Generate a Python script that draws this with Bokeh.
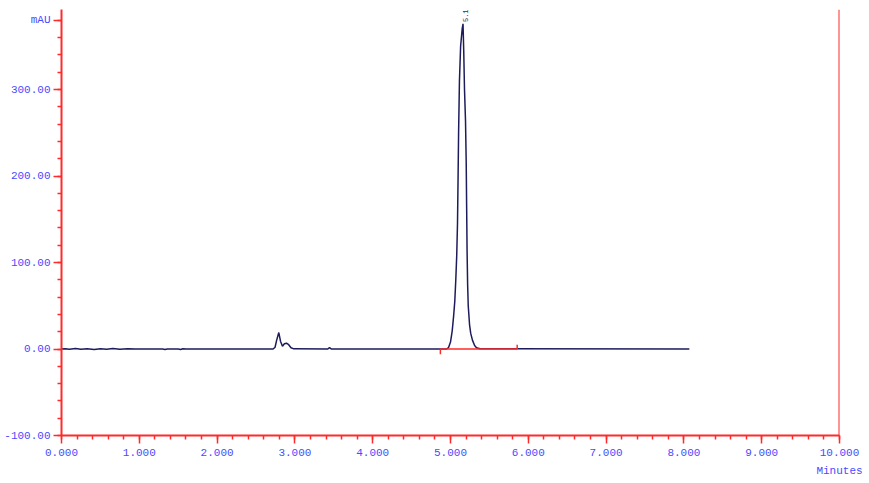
from bokeh.plotting import figure
from bokeh.models import Range1d, Span, NumeralTickFormatter, FixedTicker, LinearAxis
from bokeh.core.properties import value
from bokeh.embed import file_html
from bokeh.resources import INLINE

# Chromatogram trace (minutes, mAU)
times = [0.00, 0.05, 0.10, 0.18, 0.25, 0.33, 0.42, 0.50, 0.58, 0.66, 0.75, 0.85, 0.95,
         1.30, 1.33, 1.36, 1.50, 1.53, 1.56, 1.60,
         2.72, 2.745, 2.765, 2.793, 2.815, 2.84, 2.865, 2.892, 2.92, 2.95, 2.986,
         3.42, 3.445, 3.47,
         4.95, 4.974, 5.00, 5.022, 5.04, 5.055, 5.068, 5.08, 5.09, 5.097, 5.104, 5.115,
         5.13, 5.15, 5.161, 5.17, 5.18, 5.193, 5.202, 5.208, 5.213, 5.22, 5.228, 5.245,
         5.26, 5.283, 5.31, 5.334, 5.38, 8.07]
signal = [0.0, 0.4, -0.3, 0.5, -0.4, 0.3, -0.5, 0.4, -0.3, 0.5, -0.4, 0.3, 0.0,
          0.0, -0.6, 0.0, 0.0, -0.6, 0.2, 0.0,
          0.0, 2.0, 10.0, 19.0, 9.0, 3.2, 6.0, 6.7, 5.0, 1.5, 0.2,
          0.0, 1.5, 0.0,
          0.0, 1.5, 8.0, 21.0, 38.0, 55.0, 80.0, 108.0, 145.0, 195.0, 250.0, 310.0,
          350.0, 370.0, 376.0, 345.0, 300.0, 264.0, 215.0, 160.0, 114.0, 75.0, 50.0, 28.0,
          18.0, 10.0, 4.0, 1.5, 0.3, 0.0]

# Integration baseline of the main peak
base_start = 4.87
base_end = 5.857
peak_label_x = 5.19
peak_label = "5.1"

x_ticks = [0, 1, 2, 3, 4, 5, 6, 7, 8, 9, 10]
y_ticks = [-100, 0, 100, 200, 300, 380]
y_unit_tick = 380
y_unit = "mAU"
x_unit = "Minutes"

RED = "#ff2a2a"
BLUE = "#4a4aff"
FONT = "Liberation Mono"

p = figure(width=865, height=479, output_backend="svg", toolbar_location=None,
           x_range=Range1d(0, 10), y_range=Range1d(-100, 392.5),
           min_border_left=61, min_border_right=26, min_border_top=9, min_border_bottom=44)
p.background_fill_color = "white"
p.border_fill_color = "white"
p.outline_line_color = None
p.xgrid.visible = False
p.ygrid.visible = False

for ax in (p.xaxis[0], p.yaxis[0]):
    ax.axis_line_color = RED
    ax.axis_line_width = 2
    ax.major_tick_line_color = RED
    ax.minor_tick_line_color = RED
    ax.major_tick_line_width = 1.5
    ax.minor_tick_line_width = 1.5
    ax.major_tick_out = 8
    ax.major_tick_in = 0
    ax.minor_tick_out = 4
    ax.minor_tick_in = 0
    ax.major_label_text_color = BLUE
    ax.major_label_text_font = FONT
    ax.major_label_text_font_size = "11px"

p.xaxis.ticker = FixedTicker(ticks=x_ticks, minor_ticks=[i * 0.2 for i in range(51)])
p.yaxis.ticker = FixedTicker(ticks=y_ticks, minor_ticks=[-100 + i * 20 for i in range(25)])
p.xaxis.formatter = NumeralTickFormatter(format="0.000")
p.yaxis.formatter = NumeralTickFormatter(format="0.00")
p.yaxis.major_label_overrides = {y_unit_tick: y_unit}
p.xaxis.major_label_standoff = 5
p.yaxis.major_label_standoff = 3

# unit label under the last x tick
unit_axis = LinearAxis(ticker=FixedTicker(ticks=[10]), major_label_overrides={10: x_unit},
                       axis_line_color=None, major_tick_line_color=None,
                       minor_tick_line_color=None, major_label_standoff=0,
                       major_label_text_color=BLUE, major_label_text_font=FONT,
                       major_label_text_font_size="11px")
p.add_layout(unit_axis, "below")

p.add_layout(Span(location=10, dimension="height", line_color=RED, line_width=2))

p.line(times, signal, line_color="#1c1c5c", line_width=1.5)

# integration baseline + event marks
p.segment(x0=[base_start], y0=[0], x1=[base_end], y1=[0], line_color=RED, line_width=1.5)
p.segment(x0=[base_start, base_end], y0=[0, 0], x1=[base_start, base_end], y1=[-6, 5],
          line_color=RED, line_width=1.5)

p.text(x=[peak_label_x], y=[378], text=[peak_label], angle=1.5708,
       text_font=value(FONT), text_font_size="7px", text_color="#334",
       text_align="left", text_baseline="middle")

open("out.html", "w").write(file_html(p, INLINE))
